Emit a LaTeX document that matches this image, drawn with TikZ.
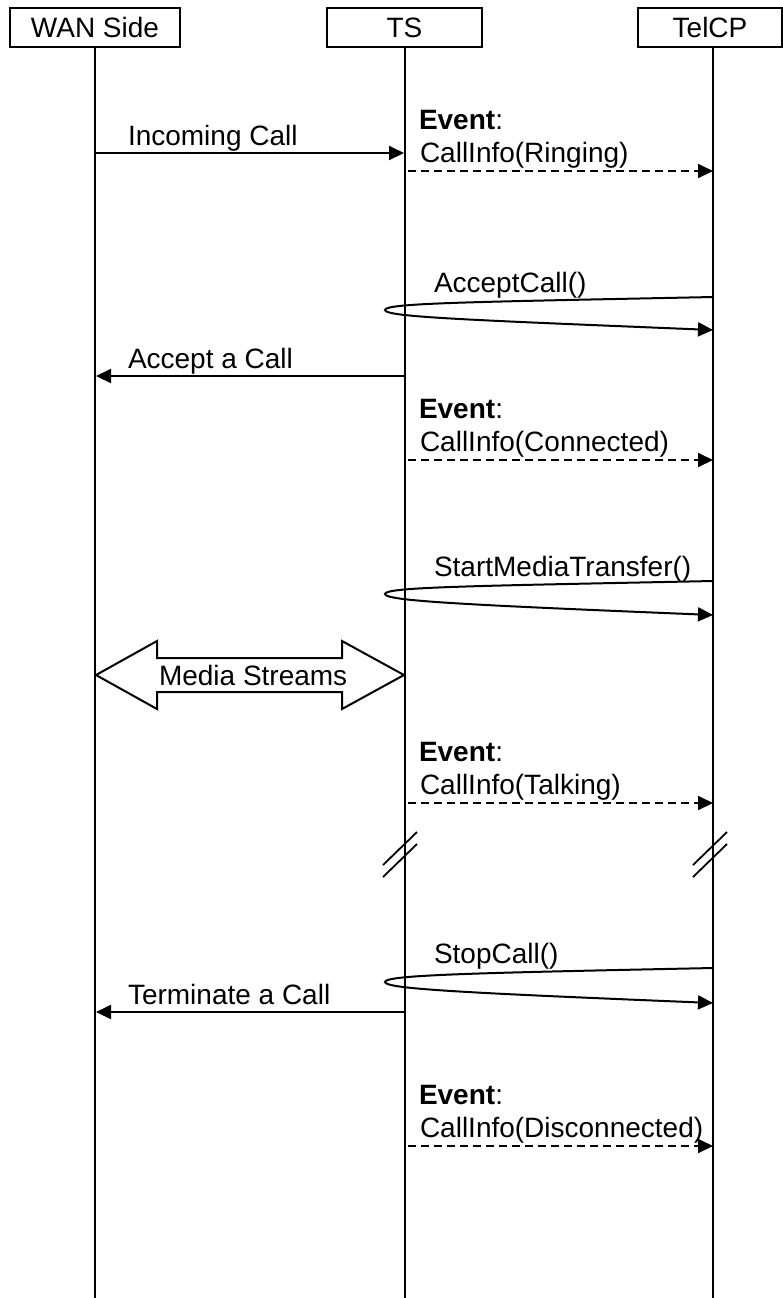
\documentclass[tikz,border=0pt]{standalone}
\usepackage{fontspec}
\setmainfont{Liberation Sans}
\usetikzlibrary{arrows.meta,calc}
\tikzset{
  hd/.style={rectangle, minimum height=19.5pt, text centered, draw=black, inner sep=0pt},
  lb/.style={anchor=base west, inner sep=0pt},
  ms/.style={-{Triangle[length=7.5pt,width=7pt]}},
  ev/.style={ms, dash pattern=on 4pt off 2.5pt},
}

\begin{document}
\begin{tikzpicture}[x=0.5pt, y=-0.5pt, line width=1pt, font=\fontsize{14}{17}\selectfont]
	\useasboundingbox (0,0) rectangle (783,1298);
	\node[hd, minimum width=85pt] (wan) at (95,27.5) {WAN Side};
	\node[hd, minimum width=77.5pt] (ts) at (404.5,27.5) {TS};
	\node[hd, minimum width=72pt] (telcp) at (710,27.5) {TelCP};
	%
	\draw (wan.south) -- (wan.south |- 0,1298);
	\draw (ts.south) -- (ts.south |- 0,1298);
	\draw (telcp.south -| 713,0) -- (713,1298);
	%
	\coordinate (wan1) at (96,153);   \coordinate (ts1) at (404,153);
	\coordinate (ts2) at (408,171);   \coordinate (tel2) at (713,171);
	\coordinate (tel3a) at (713,297); \coordinate (tip3) at (385,310); \coordinate (tel3b) at (713,330);
	\coordinate (ts4) at (404,376);   \coordinate (wan4) at (96,376);
	\coordinate (ts5) at (408,460);   \coordinate (tel5) at (713,460);
	\coordinate (tel6a) at (713,581); \coordinate (tip6) at (385,594); \coordinate (tel6b) at (713,615);
	\coordinate (wan7) at (96,675);   \coordinate (ts7) at (404,675);
	\coordinate (ts8) at (408,803);   \coordinate (tel8) at (713,803);
	\coordinate (brk1) at (404,850);  \coordinate (brk2) at (713,850);
	\coordinate (tel9a) at (713,968); \coordinate (tip9) at (385,982); \coordinate (tel9b) at (713,1003);
	\coordinate (ts10) at (404,1012); \coordinate (wan10) at (96,1012);
	\coordinate (ts11) at (408,1146); \coordinate (tel11) at (713,1146);
	%
	\node[lb] (incoming) at (127,145) {Incoming Call};
	\draw[ms] (wan1) -- (ts1);
	\node[lb] (evt2) at (418,129) {\textbf{Event}:};
	\node[lb] (ringing) at (419,162) {CallInfo(Ringing)};
	\draw[ev] (ts2) -- (tel2);
	\node[lb] (accept) at (433,292) {AcceptCall()};
	\draw[ms] (tel3a) .. controls +(-243,5) and +(0,-7) .. (tip3) .. controls +(0,7) and +(-243,-10) .. (tel3b);
	\node[lb] (acceptcall) at (127,368) {Accept a Call};
	\draw[ms] (ts4) -- (wan4);
	\node[lb] (evt5) at (418,418) {\textbf{Event}:};
	\node[lb] (connected) at (419,451) {CallInfo(Connected)};
	\draw[ev] (ts5) -- (tel5);
	\node[lb] (startmedia) at (433,576) {StartMediaTransfer()};
	\draw[ms] (tel6a) .. controls +(-243,5) and +(0,-7) .. (tip6) .. controls +(0,7) and +(-243,-10) .. (tel6b);
	% media streams
	\draw (wan7) -- ++(61,-34) -- ++(0,17) -- ($(ts7)+(-62,-17)$) -- ++(0,-17) -- (ts7)
	  -- ++(-62,34) -- ++(0,-17) -- ($(wan7)+(61,17)$) -- ++(0,17) -- cycle;
	\node[lb] (media) at (158,685) {Media Streams};
	\node[lb] (evt8) at (418,761) {\textbf{Event}:};
	\node[lb] (talking) at (419,794) {CallInfo(Talking)};
	\draw[ev] (ts8) -- (tel8);
	% breaks
	\draw[line width=0.9pt] ($(brk1)+(-21,15)$) -- ++(34,-33) ($(brk1)+(-21,27)$) -- ++(34,-33);
	\draw[line width=0.9pt] ($(brk2)+(-20,15)$) -- ++(34,-33) ($(brk2)+(-20,27)$) -- ++(34,-33);
	\node[lb] (stop) at (433,963) {StopCall()};
	\draw[ms] (tel9a) .. controls +(-243,5) and +(0,-7) .. (tip9) .. controls +(0,7) and +(-243,-10) .. (tel9b);
	\node[lb] (terminate) at (127,1004) {Terminate a Call};
	\draw[ms] (ts10) -- (wan10);
	\node[lb] (evt11) at (418,1104) {\textbf{Event}:};
	\node[lb] (disconnected) at (419,1137) {CallInfo(Disconnected)};
	\draw[ev] (ts11) -- (tel11);
\end{tikzpicture}
\end{document}
